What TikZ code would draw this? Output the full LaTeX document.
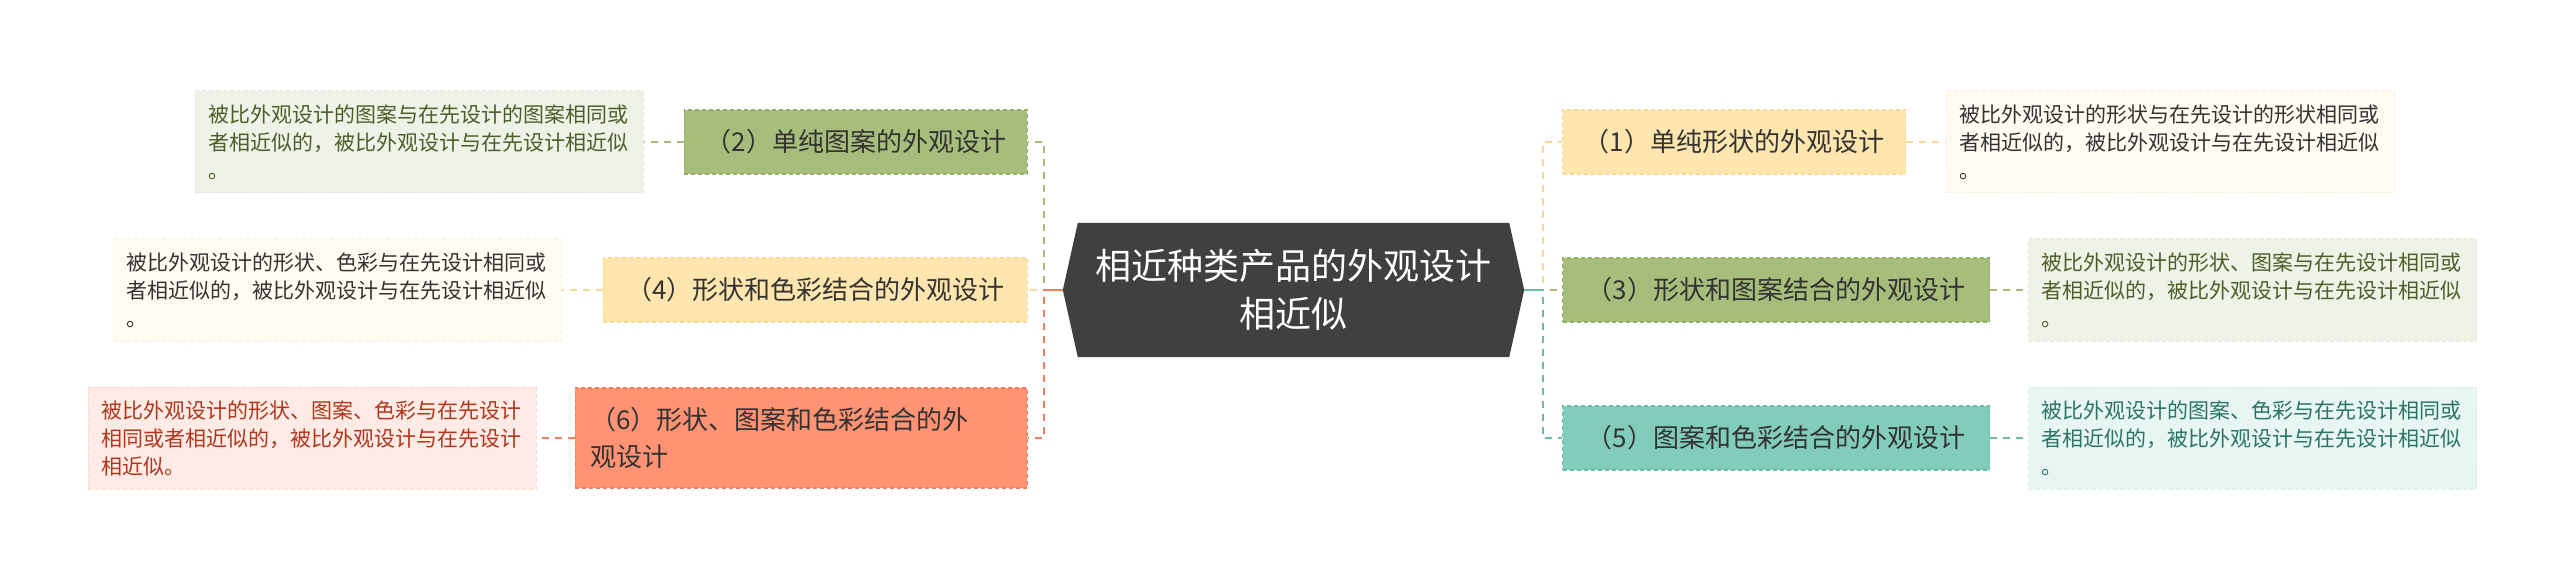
\documentclass[tikz,border=0pt]{standalone}
\usepackage{fontspec}
\setmainfont{Noto Sans CJK SC}
\usepackage{xcolor}
\usetikzlibrary{calc,positioning,backgrounds}

\definecolor{ctrgray}{HTML}{404040}
\definecolor{boxtext}{HTML}{333333}
\definecolor{ybox}{HTML}{FFE5AE}
\definecolor{yline}{HTML}{F6D796}
\definecolor{ynote}{HTML}{FFFBF0}
\definecolor{ynline}{HTML}{F8EFD9}
\definecolor{ytext}{HTML}{333333}
\definecolor{gbox}{HTML}{A6BD7B}
\definecolor{gline}{HTML}{94AD69}
\definecolor{gnote}{HTML}{EFF2E6}
\definecolor{gnline}{HTML}{E2E8D3}
\definecolor{gtext}{HTML}{4C5E2A}
\definecolor{obox}{HTML}{FF9373}
\definecolor{oline}{HTML}{F07E5E}
\definecolor{onote}{HTML}{FFEBE6}
\definecolor{online}{HTML}{F9DAD2}
\definecolor{otext}{HTML}{B0361C}
\definecolor{tbox}{HTML}{82CCBC}
\definecolor{tline}{HTML}{6DBAA9}
\definecolor{tnote}{HTML}{E7F6F2}
\definecolor{tnline}{HTML}{D5EDE6}
\definecolor{ttext}{HTML}{2B7463}

\tikzset{
  topic/.style={draw, dash pattern=on 4pt off 3pt, line width=1.2pt, minimum height=64pt,
    inner xsep=18pt, inner ysep=0pt, text=boxtext, font=\fontsize{26}{37}\selectfont},
  note/.style={draw, dash pattern=on 4pt off 3pt, line width=1pt, text width=422pt,
    minimum height=102pt, inner xsep=13pt, inner ysep=0pt, align=left,
    font=\fontsize{21}{28}\selectfont},
  branch/.style={line width=2pt, dash pattern=on 7pt off 6pt},
}

\begin{document}
\begin{tikzpicture}[x=1pt,y=-1pt]
		\useasboundingbox (0,0) rectangle (2560,580);

		% main topic
		\node [text=white, align=center, minimum width=431pt, minimum height=134pt, inner sep=0pt,
		  font=\fontsize{36}{48}\selectfont] (c) at (1293.5,290) {相近种类产品的外观设计\\相近似};
		\coordinate (cl) at ($(c.west)+(-15,0)$);
		\coordinate (cr) at ($(c.east)+(15,0)$);
		\begin{scope}[on background layer]
		\fill [ctrgray] (c.north west) -- (cl) -- (c.south west) -- (c.south east) -- (cr) -- (c.north east) -- cycle;
		\end{scope}
		\coordinate (lbus) at (1044,290);
		\coordinate (rbus) at (1543,290);

		% right side
		\node [topic, fill=ybox, draw=yline, minimum width=343pt, anchor=west] (b1) at (1562,142) {（1）单纯形状的外观设计};
		\node [topic, fill=gbox, draw=gline, minimum width=427pt, anchor=west] (b3) at (1562,290) {（3）形状和图案结合的外观设计};
		\node [topic, fill=tbox, draw=tline, minimum width=427pt, anchor=west] (b5) at (1562,438) {（5）图案和色彩结合的外观设计};

		\node [note, fill=ynote, draw=ynline, text=ytext, right=40pt of b1] (n1) {被比外观设计的形状与在先设计的形状相同或\\者相近似的，被比外观设计与在先设计相近似\\。};
		\node [note, fill=gnote, draw=gnline, text=gtext, right=38pt of b3] (n3) {被比外观设计的形状、图案与在先设计相同或\\者相近似的，被比外观设计与在先设计相近似\\。};
		\node [note, fill=tnote, draw=tnline, text=ttext, right=38pt of b5] (n5) {被比外观设计的图案、色彩与在先设计相同或\\者相近似的，被比外观设计与在先设计相近似\\。};

		% left side
		\node [topic, fill=gbox, draw=gline, minimum width=343pt, anchor=east] (b2) at (1028,142) {（2）单纯图案的外观设计};
		\node [topic, fill=ybox, draw=yline, minimum width=424pt, anchor=east] (b4) at (1028,290) {（4）形状和色彩结合的外观设计};
		\node [topic, fill=obox, draw=oline, text width=422pt, align=left, inner xsep=15pt, minimum height=100pt,
		  anchor=east] (b6) at (1028,438) {（6）形状、图案和色彩结合的外\\观设计};

		\node [note, fill=gnote, draw=gnline, text=gtext, left=40pt of b2] (n2) {被比外观设计的图案与在先设计的图案相同或\\者相近似的，被比外观设计与在先设计相近似\\。};
		\node [note, fill=ynote, draw=ynline, text=ytext, left=41pt of b4] (n4) {被比外观设计的形状、色彩与在先设计相同或\\者相近似的，被比外观设计与在先设计相近似\\。};
		\node [note, fill=onote, draw=online, text=otext, left=38pt of b6] (n6) {被比外观设计的形状、图案、色彩与在先设计\\相同或者相近似的，被比外观设计与在先设计\\相近似。};

		% branches
		\draw [branch, draw=yline] (cr) -- (rbus) |- (b1.west);
		\draw [branch, draw=gbox] (cr) -- (rbus) |- (b3.west);
		\draw [branch, draw=tline] (cr) -- (rbus) |- (b5.west);
		\draw [line width=2pt, tline] (cr) -- (rbus);
		\draw [branch, draw=yline] (cl) -- (lbus) |- (b4.east);
		\draw [branch, draw=gbox] (cl) -- (lbus) |- (b2.east);
		\draw [branch, draw=oline] (cl) -- (lbus) |- (b6.east);
		\draw [line width=2pt, oline] (cl) -- (lbus);

		\draw [branch, draw=yline] (b1) -- (n1);
		\draw [branch, draw=gbox] (b3) -- (n3);
		\draw [branch, draw=tline] (b5) -- (n5);
		\draw [branch, draw=gbox] (b2) -- (n2);
		\draw [branch, draw=yline] (b4) -- (n4);
		\draw [branch, draw=oline] (b6) -- (n6);
\end{tikzpicture}
\end{document}
